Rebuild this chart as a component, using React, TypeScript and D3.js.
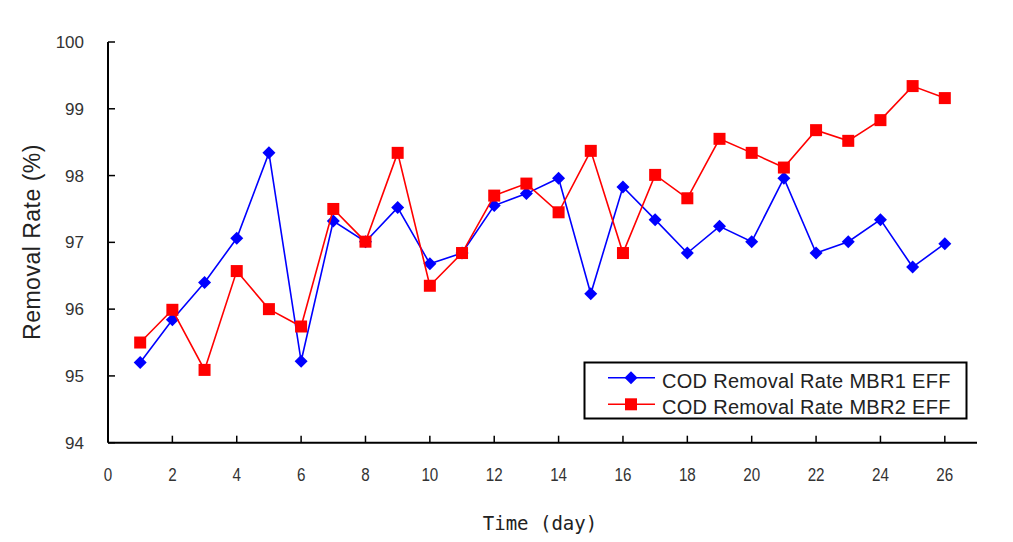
import React from "react";
import * as d3 from "d3";

const days = [1,2,3,4,5,6,7,8,9,10,11,12,13,14,15,16,17,18,19,20,21,22,23,24,25,26];
const mbr1 = [95.2,95.84,96.4,97.06,98.34,95.22,97.32,97.01,97.52,96.68,96.84,97.55,97.73,97.96,96.23,97.83,97.34,96.84,97.24,97.01,97.96,96.84,97.01,97.34,96.63,96.98];
const mbr2 = [95.5,95.99,95.09,96.57,96.0,95.74,97.5,97.01,98.34,96.35,96.84,97.7,97.88,97.45,98.37,96.84,98.01,97.66,98.55,98.34,98.12,98.68,98.52,98.83,99.34,99.16];
const xTicks = [0,2,4,6,8,10,12,14,16,18,20,22,24,26];
const yTicks = [94,95,96,97,98,99,100];
const seriesNames = ["COD Removal Rate MBR1 EFF", "COD Removal Rate MBR2 EFF"];

export default function App() {
  const W = 1013, H = 542;
  const x = d3.scaleLinear().domain([0, 27]).range([108, 977]);
  const y = d3.scaleLinear().domain([94, 100]).range([442.7, 42]);
  const line = d3.line<number>().x((_, i) => x(days[i])).y((v) => y(v));
  const blue = "#0000ff";
  const red = "#ff0000";
  const diamond = (cx: number, cy: number, r = 6.5) =>
    `M${cx},${cy - r}L${cx + r},${cy}L${cx},${cy + r}L${cx - r},${cy}Z`;
  const tickFont = "'Liberation Sans', Arial, sans-serif";
  return (
    <svg width={W} height={H} style={{ position: "absolute", left: 0, top: 0, background: "#fff" }}>
      <rect x={0} y={0} width={W} height={H} fill="#fff" />
      {/* axes */}
      <line x1={x(0)} y1={y(94)} x2={x(27)} y2={y(94)} stroke="#000" strokeWidth={2} />
      <line x1={x(0)} y1={y(94)} x2={x(0)} y2={y(100)} stroke="#000" strokeWidth={2} />
      {yTicks.map((t) => (
        <g key={"y" + t}>
          <line x1={x(0)} x2={x(0) + 7} y1={y(t)} y2={y(t)} stroke="#000" strokeWidth={1.5} />
          <text x={84} y={y(t) + 6} textAnchor="end" fontSize={17} fill="#333"
            fontFamily="'Liberation Sans', Arial, sans-serif">{t}</text>
        </g>
      ))}
      {xTicks.map((t) => (
        <g key={"x" + t}>
          {t > 0 && <line x1={x(t)} x2={x(t)} y1={y(94)} y2={y(94) - 7} stroke="#000" strokeWidth={1.5} />}
          <g transform={`translate(${x(t)},481) scale(0.8,1)`}>
            <text x={0} y={0} textAnchor="middle" fontSize={19} fill="#333" fontFamily={tickFont}>{t}</text>
          </g>
        </g>
      ))}
      <text x={540} y={530} textAnchor="middle" fontSize={19} fill="#222"
        fontFamily="'DejaVu Sans Mono', monospace">Time (day)</text>
      <text transform={`translate(40,242) rotate(-90)`} textAnchor="middle" fontSize={23} fill="#222"
        fontFamily="'Liberation Sans', Arial, sans-serif" letterSpacing={0.5}>Removal Rate (%)</text>
      {/* series */}
      <path d={line(mbr1) || ""} fill="none" stroke={blue} strokeWidth={1.6} />
      {mbr1.map((v, i) => (
        <path key={"b" + i} d={diamond(x(days[i]), y(v))} fill={blue} />
      ))}
      <path d={line(mbr2) || ""} fill="none" stroke={red} strokeWidth={1.6} />
      {mbr2.map((v, i) => (
        <rect key={"r" + i} x={x(days[i]) - 6} y={y(v) - 6} width={12} height={12} fill={red} />
      ))}
      {/* legend */}
      <rect x={584.5} y={362.5} width={382} height={56} fill="#fff" stroke="#000" strokeWidth={2} />
      <line x1={608} x2={655} y1={377.7} y2={377.7} stroke={blue} strokeWidth={1.6} />
      <path d={diamond(631, 377.7)} fill={blue} />
      <line x1={608} x2={655} y1={404.3} y2={404.3} stroke={red} strokeWidth={1.6} />
      <rect x={625} y={398.3} width={12} height={12} fill={red} />
      {seriesNames.map((s, i) => (
        <text key={s} x={662} y={387.5 + i * 26.6} fontSize={20} fill="#222" letterSpacing={0.3}
          fontFamily="'Liberation Sans', Arial, sans-serif">{s}</text>
      ))}
    </svg>
  );
}
